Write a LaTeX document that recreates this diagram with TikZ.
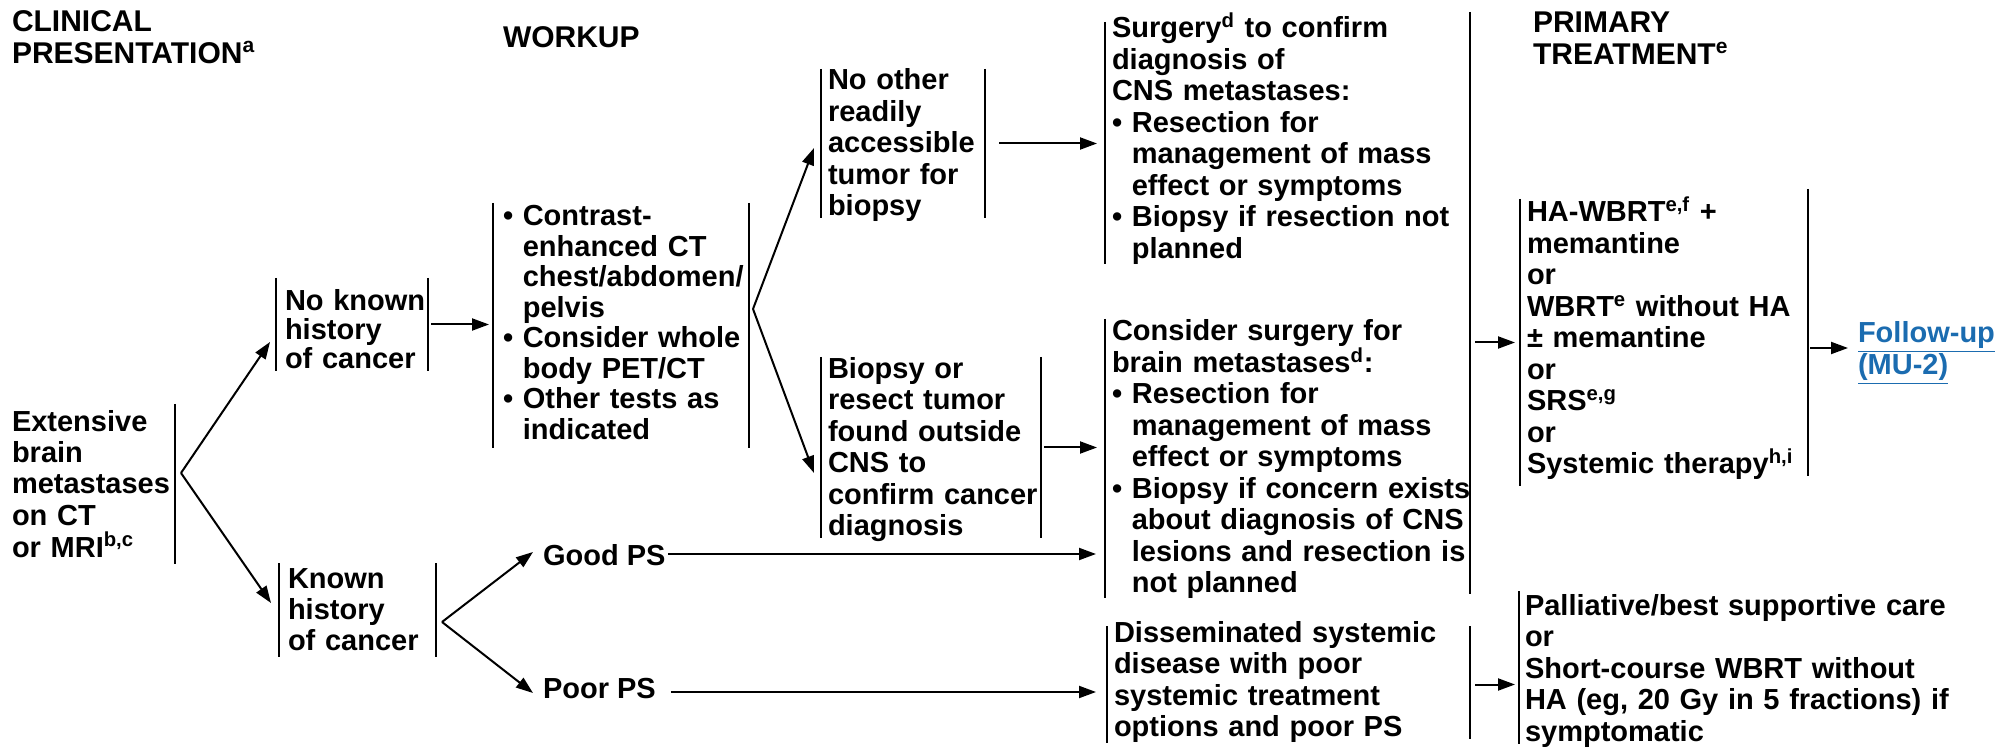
\documentclass[tikz,border=0pt]{standalone}
\usepackage{fontspec}
\setmainfont{Liberation Sans}
\usetikzlibrary{arrows.meta}
\definecolor{linkblue}{RGB}{27,108,176}
\newcommand{\bodyfont}{\fontsize{14.5pt}{15.75pt}\selectfont\bfseries}
\newcommand{\headfont}{\fontsize{15pt}{15.6pt}\selectfont\bfseries}
\newcommand{\bull}{\textbullet\ }
\newcommand{\indt}{\hphantom{\textbullet\ }}
\begin{document}
\begin{tikzpicture}[
	x=0.5pt, y=-0.5pt,
	line width=1pt,
	>={Triangle[length=8.5pt,width=6pt]},
	box/.style args={#1/#2/#3/#4}{anchor=base west, inner sep=0pt, font=\bodyfont,
		text width=#1, text height=#2, text depth=#3,
		execute at begin node={\leftskip=#4\rightskip=-40pt plus 1fil}},
	head/.style={anchor=base west, inner sep=0pt, font=\headfont, text width=150pt},
	lbl/.style={anchor=base west, inner sep=0pt, font=\bodyfont, text height=11pt, text depth=0pt}
	]

	\useasboundingbox (0,0) rectangle (1997,748);

	\node[head] (hdclin) at (11,32) {CLINICAL\\PRESENTATION\textsuperscript{a}};
	\node[head] (hdwork) at (502,48) {WORKUP};
	\node[head] (hdprim) at (1532,33) {PRIMARY\\TREATMENT\textsuperscript{e}};

	\node[box={84pt/13pt/66pt/3pt}] (ext) at (5,431) {Extensive\\brain\\metastases\\on CT\\or MRI\textsuperscript{b,c}};
	\node[box={75pt/16pt/29.5pt/4pt}, font={\fontsize{14.5pt}{14.5pt}\selectfont\bfseries}] (nokn) at (276,311) {No known\\history\\of cancer};
	\node[box={77.5pt/12pt/34pt/4pt}] (known) at (279,588) {Known\\history\\of cancer};
	\node[box={127pt/11pt/110.5pt/4.5pt}, font={\fontsize{14.5pt}{15.25pt}\selectfont\bfseries}] (work) at (493,226)
		{\bull Contrast-\\\indt enhanced CT\\\indt chest/abdomen/\\\indt pelvis\\\bull Consider whole\\\indt body PET/CT\\\bull Other tests as\\\indt indicated};
	\node[lbl] (good) at (542,565) {Good PS};
	\node[lbl] (poor) at (542,698) {Poor PS};
	\node[box={81pt/10pt/63.5pt/3pt}] (noother) at (821,90) {No other\\readily\\accessible\\tumor for\\biopsy};
	\node[box={109pt/10.25pt/79.25pt/3pt}] (biop) at (821,378.5) {Biopsy or\\resect tumor\\found outside\\CNS to\\confirm cancer\\diagnosis};
	\node[box={181.5pt/7.5pt/112.5pt/3pt}] (surg) at (1105,38)
		{Surgery\textsuperscript{d} to confirm\\diagnosis of\\CNS metastases:\\\bull Resection for\\\indt management of mass\\\indt effect or symptoms\\\bull Biopsy if resection not\\\indt planned};
	\node[box={181.5pt/10.5pt/128pt/3pt}] (cons) at (1105,341)
		{Consider surgery for\\brain metastases\textsuperscript{d}:\\\bull Resection for\\\indt management of mass\\\indt effect or symptoms\\\bull Biopsy if concern exists\\\indt about diagnosis of CNS\\\indt lesions and resection is\\\indt not planned};
	\node[box={180.5pt/7.5pt/50pt/3pt}] (diss) at (1107,642) {Disseminated systemic\\disease with poor\\systemic treatment\\options and poor PS};
	\node[box={143pt/11pt/131.5pt/3pt}] (prim) at (1520,222)
		{HA-WBRT\textsuperscript{e,f} +\\memantine\\or\\WBRT\textsuperscript{e} without HA\\± memantine\\or\\SRS\textsuperscript{e,g}\\or\\Systemic therapy\textsuperscript{h,i}};
	\node[box={60pt/12pt/17pt/0pt}, text=linkblue] (follow) at (1857,343) {\underline{Follow-up}\\\underline{(MU-2)}};
	\node[box={220pt/11.5pt/64pt/2.5pt}] (final) at (1519,615)
		{Palliative/best supportive care\\or\\Short-course WBRT without\\HA (eg, 20 Gy in 5 fractions) if\\symptomatic};

	\draw (ext.north east) -- (ext.south east);
	\draw (nokn.north west) -- (nokn.south west);
	\draw (nokn.north east) -- (nokn.south east);
	\draw (known.north west) -- (known.south west);
	\draw (known.north east) -- (known.south east);
	\draw (work.north west) -- (work.south west);
	\draw (work.north east) -- (work.south east);
	\draw (noother.north west) -- (noother.south west);
	\draw (noother.north east) -- (noother.south east);
	\draw (biop.north west) -- (biop.south west);
	\draw (biop.north east) -- (biop.south east);
	\draw (surg.north west) -- (surg.south west);
	\draw (cons.north west) -- (cons.south west);
	\draw ([yshift=5pt]surg.north east) -- ([yshift=2pt]cons.south east);
	\draw (diss.north west) -- (diss.south west);
	\draw (diss.north east) -- ([yshift=2pt]diss.south east);
	\draw (prim.north west) -- (prim.south west);
	\draw ([yshift=5pt]prim.north east) -- ([yshift=5pt]prim.south east);
	\draw (final.north west) -- (final.south west);

	\coordinate (extfork) at ([shift={(3pt,5.5pt)}]ext.east);
	\coordinate (workfork) at ([shift={(2pt,8.25pt)}]work.east);
	\coordinate (knownfork) at ([shift={(3pt,-6pt)}]known.east);

	\draw[->] (extfork) -- ([shift={(-3pt,-8.75pt)}]nokn.west);
	\draw[->] (extfork) -- ([shift={(-4pt,3.5pt)}]known.west);
	\draw[->,shorten <=1.5pt,shorten >=2pt] (nokn.east) -- (nokn.east -| work.west);
	\draw[->] (workfork) -- ([shift={(-3.5pt,-2.25pt)}]noother.west);
	\draw[->] (workfork) -- ([shift={(-3.5pt,-12.75pt)}]biop.west);
	\draw[->] (knownfork) -- ([shift={(-4.5pt,1pt)}]good.west);
	\draw[->] (knownfork) -- ([shift={(-4.5pt,-3pt)}]poor.west);
	\draw[->,shorten <=7pt,shorten >=4pt] (noother.east) -- (noother.east -| surg.west);
	\draw[->,shorten <=1.5pt,shorten >=4pt] (biop.east) -- (biop.east -| cons.west);
	\draw[->,shorten <=1pt,shorten >=4.5pt] (good.east) -- (good.east -| cons.west);
	\draw[->,shorten <=7pt,shorten >=5.5pt] ([yshift=-2.5pt]poor.east) -- ([yshift=-2.5pt]poor.east -| diss.west);
	\draw[->,shorten <=2.5pt,shorten >=2.5pt] (prim.west -| cons.east) -- (prim.west);
	\draw[->,shorten <=1pt,shorten >=4.5pt] (prim.east |- follow.west) -- (follow.west);
	\draw[->,shorten <=2.5pt,shorten >=2pt] (diss.east) -- (diss.east -| final.west);

\end{tikzpicture}
\end{document}
